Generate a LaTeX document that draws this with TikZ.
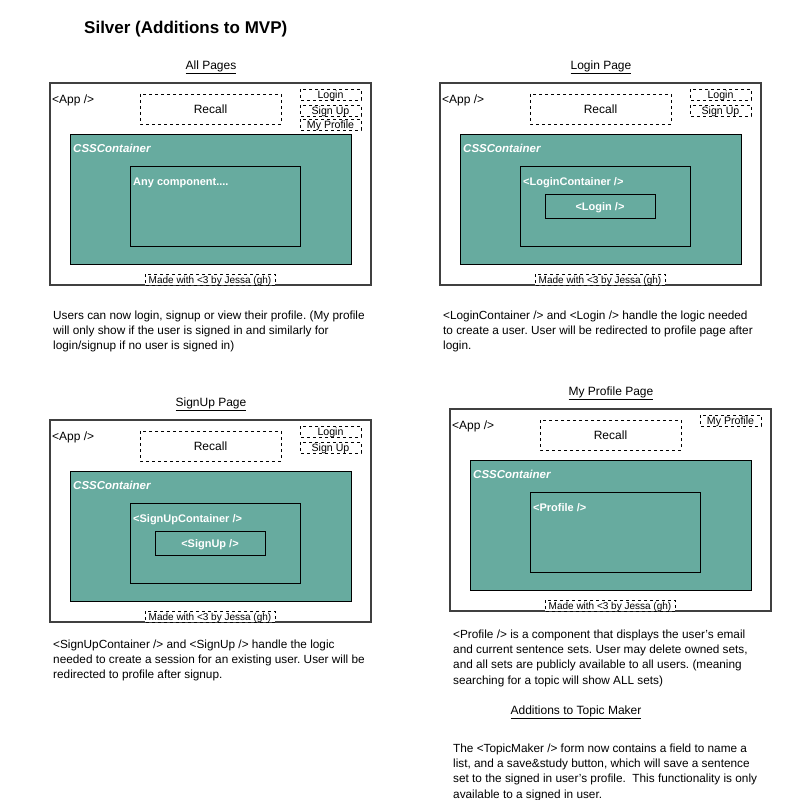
\documentclass[tikz,border=0pt]{standalone}
\usepackage{fontspec}
\setmainfont{Liberation Sans}
\usetikzlibrary{positioning}
\definecolor{teal}{HTML}{67AB9F}
\frenchspacing
\tikzset{
  appbox/.style={draw=black!75, line width=2pt, fill=white},
  dashbox/.style={draw=black, dashed, fill=white, line width=0.8pt},
  cssbox/.style={draw=black, fill=teal, line width=0.9pt},
  compbox/.style={draw=black, line width=0.9pt},
  whitetext/.style={text=white, font=\fontsize{11}{13}\selectfont\bfseries, inner sep=0pt},
  plaintext/.style={font=\fontsize{12}{14}\selectfont, inner sep=0pt},
  notes/.style={align=left, anchor=north west, inner sep=0pt, font=\fontsize{11.8}{15.3}\selectfont},
  heading/.style={font=\fontsize{12}{14}\selectfont, inner sep=1pt, anchor=base}
}
% frame of one page: outer box, Recall, CSSContainer, footer
\def\pageframe#1{
  \draw[appbox] (50, 83) rectangle (371, 285);
  \node[plaintext, anchor=base west] (#1app) at (52, 103) {<App />};
  \draw[dashbox] (140, 94) rectangle (281, 124);
  \node[font=\fontsize{12}{14}\selectfont, anchor=base] (#1recall) at (210.5, 113.5) {Recall};
  \draw[cssbox] (70, 134) rectangle (351, 264);
  \node[whitetext, anchor=base west, font=\fontsize{11.5}{13}\selectfont\bfseries\itshape] (#1css) at (73, 152.5) {CSSContainer};
  \draw[dashbox] (145, 274) rectangle (275, 285);
  \node[font=\fontsize{10}{11}\selectfont, inner sep=0pt, anchor=base] (#1made) at (210, 283.5) {Made with <3 by Jessa (gh)};
}
\def\navbtn#1#2#3{
  \draw[dashbox] (300, #2-5.5) rectangle (361, #2+5.5);
  \node[font=\fontsize{10.6}{11}\selectfont, inner sep=0pt, anchor=base] (#1) at (330.5, #2+4) {#3};
}

\begin{document}
\begin{tikzpicture}[x=1pt, y=-1pt]
  \useasboundingbox[fill=white] (0, 0) rectangle (804, 800);
  %%%%% TITLE %%%%%
  \node[anchor=base west, font=\fontsize{17}{19}\selectfont\bfseries, inner sep=0pt] (title) at (84, 34) {Silver (Additions to MVP)};

  %%%%% ALL PAGES %%%%%
  \node[heading] (allhead) at (211, 69.5) {\underline{All Pages}};
  \pageframe{all}
  \navbtn{alllogin}{94.5}{Login}
  \navbtn{allsignup}{110.5}{Sign Up}
  \navbtn{allprofile}{124.5}{My Profile}
  \draw[compbox] (130, 166) rectangle (300, 246);
  \node[whitetext, anchor=base west] (anycomp) at (133, 185) {Any component....};
  \node[notes] (allnotes) at (53, 310.5) {Users can now login, signup or view their profile. (My profile\\will only show if the user is signed in and similarly for\\login/signup if no user is signed in)};

  %%%%% LOGIN PAGE %%%%%
  \begin{scope}[shift={(390, 0)}]
    \node[heading] (loginhead) at (211, 69.5) {\underline{Login Page}};
    \pageframe{log}
    \navbtn{loglogin}{94.5}{Login}
    \navbtn{logsignup}{110.5}{Sign Up}
    \draw[compbox] (130, 166) rectangle (300, 246);
    \node[whitetext, anchor=base west] (logcont) at (133, 185) {<LoginContainer />};
    \draw[compbox] (155, 194) rectangle (265, 218);
    \node[whitetext, anchor=base] (logcomp) at (210, 210) {<Login />};
    \node[notes] (lognotes) at (53, 310.5) {<LoginContainer /> and <Login /> handle the logic needed\\to create a user. User will be redirected to profile page after\\login.};
  \end{scope}

  %%%%% SIGNUP PAGE %%%%%
  \begin{scope}[shift={(0, 337)}]
    \node[heading] (signhead) at (211, 69.5) {\underline{SignUp Page}};
    \pageframe{sign}
    \navbtn{signlogin}{94.5}{Login}
    \navbtn{signsignup}{110.5}{Sign Up}
    \draw[compbox] (130, 166) rectangle (300, 246);
    \node[whitetext, anchor=base west] (signcont) at (133, 185) {<SignUpContainer />};
    \draw[compbox] (155, 194) rectangle (265, 218);
    \node[whitetext, anchor=base] (signcomp) at (210, 210) {<SignUp />};
  \end{scope}
  \node[notes] (signnotes) at (53, 639.5) {<SignUpContainer /> and <SignUp /> handle the logic\\needed to create a session for an existing user. User will be\\redirected to profile after signup.};

  %%%%% MY PROFILE PAGE %%%%%
  \begin{scope}[shift={(400, 326)}]
    \node[heading] (profhead) at (211, 69.5) {\underline{My Profile Page}};
    \pageframe{prof}
    \navbtn{profprofile}{94.5}{My Profile}
    \draw[compbox] (130, 166) rectangle (300, 246);
    \node[whitetext, anchor=base west] (profcomp) at (133, 185) {<Profile />};
  \end{scope}
  \node[notes] (profnotes) at (453, 629.5) {<Profile /> is a component that displays the user's email\\and current sentence sets. User may delete owned sets,\\and all sets are publicly available to all users. (meaning\\searching for a topic will show ALL sets)};

  %%%%% TOPIC MAKER %%%%%
  \node[heading] (topichead) at (576, 714.5) {\underline{Additions to Topic Maker}};
  \node[notes] (topicnotes) at (453, 743.5) {The <TopicMaker /> form now contains a field to name a\\list, and a save\&study button, which will save a sentence\\set to the signed in user's profile.\ \ This functionality is only\\available to a signed in user.};
\end{tikzpicture}
\end{document}
